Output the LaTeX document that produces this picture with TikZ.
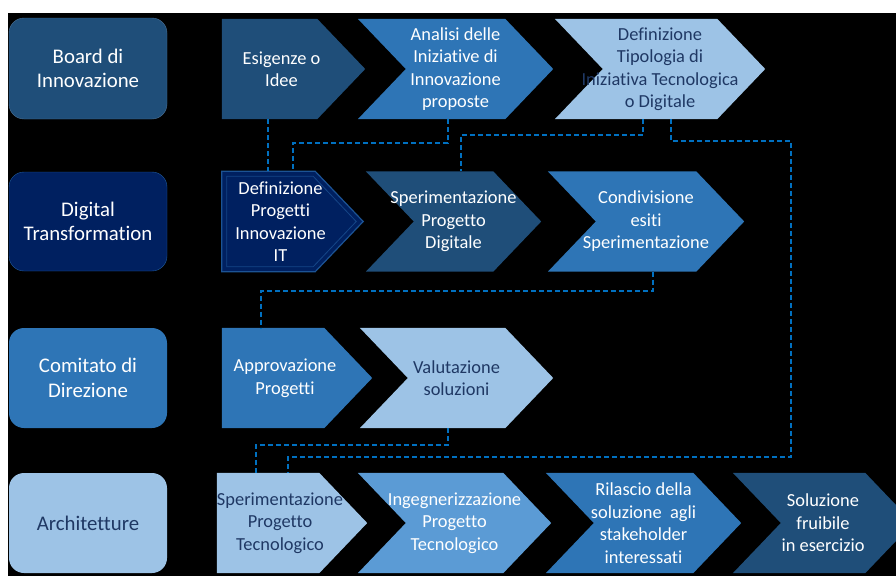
\documentclass[tikz,border=0pt]{standalone}
\usepackage{fontspec}
\setmainfont{Carlito}[Ligatures=NoCommon]
\usetikzlibrary{backgrounds}
\definecolor{cNavy}{HTML}{002060}
\definecolor{cDark}{HTML}{1F4E79}
\definecolor{cMid}{HTML}{2E75B6}
\definecolor{cSky}{HTML}{5B9BD5}
\definecolor{cLight}{HTML}{9DC3E6}
\definecolor{cInk}{HTML}{1F3864}
\definecolor{cLink}{HTML}{0070C0}
\newcommand{\lanefont}{\fontsize{20.8}{24.5}\selectfont}
\newcommand{\stepfont}{\fontsize{18.4}{22.5}\selectfont}

\begin{document}
\begin{tikzpicture}[x=1pt,y=-1pt,
  lane/.style={rounded corners=15pt,minimum width=158pt,inner sep=0pt,
    align=center,font=\lanefont,text=white},
  stepbox/.style={minimum height=100pt,inner sep=0pt,align=center,
    font=\stepfont,text=white},
  link/.style={cLink,line width=1.7pt,dash pattern=on 5pt off 3pt}]
  \useasboundingbox (0,0) rectangle (896,576);

  % lanes (left column)
  \node[lane,fill=cDark,draw=cDark!80!white,minimum height=101pt] (board) at (88,68.5) {Board di\\Innovazione};
  \node[lane,fill=cNavy,draw=cMid!70!cNavy,minimum height=99pt] (digit) at (88,221.5) {Digital\\Transformation};
  \node[lane,fill=cMid,minimum height=100pt] (comit) at (88,378) {Comitato di\\Direzione};
  \node[lane,fill=cLight,text=cInk,minimum height=100pt] (archi) at (88,523) {Architetture};

  % row 1
  \node[stepbox,minimum width=119pt] (esig) at (281.5,69) {Esigenze o\\Idee};
  \node[stepbox,minimum width=195pt] (anal) at (455.5,69) {Analisi delle\\Iniziative di\\Innovazione\\proposte};
  \node[stepbox,minimum width=210pt,text=cInk] (tipo) at (660,69) {Definizione\\Tipologia di\\Iniziativa Tecnologica\\o Digitale};
  % row 2
  \node[stepbox,minimum width=117pt] (defp) at (280.5,221.5) {Definizione\\Progetti\\Innovazione\\IT};
  \node[stepbox,minimum width=175pt] (spd) at (453.5,221.5) {Sperimentazione\\Progetto\\Digitale};
  \node[stepbox,minimum width=196pt] (cond) at (646,221.5) {Condivisione\\esiti\\Sperimentazione};
  % row 3
  \node[stepbox,minimum width=126pt] (appr) at (285,378) {Approvazione\\Progetti};
  \node[stepbox,minimum width=193pt,text=cInk] (valu) at (456.5,378) {Valutazione\\soluzioni};
  % row 4
  \node[stepbox,minimum width=116pt,text=cInk] (spt) at (280,523) {Sperimentazione\\Progetto\\Tecnologico};
  \node[stepbox,minimum width=193pt] (ing) at (454.5,523) {Ingegnerizzazione\\Progetto\\Tecnologico};
  \node[stepbox,minimum width=195pt] (ril) at (643.5,523) {Rilascio della\\soluzione~ agli\\stakeholder\\interessati};
  \node[stepbox,minimum width=180pt] (sol) at (823,523) {Soluzione\\fruibile\\in esercizio};

  \begin{scope}[on background layer]
    \fill[white] (0,0) rectangle (896,576);
    \fill[black] (8,13) rectangle (896,576);
    % chevrons
    \foreach \n/\c in {anal/cMid,tipo/cLight,spd/cDark,cond/cMid,valu/cLight,ing/cSky,ril/cMid,sol/cDark}
      \fill[\c] (\n.north west) -- ([xshift=-48pt]\n.north east) -- (\n.east)
        -- ([xshift=-48pt]\n.south east) -- (\n.south west) -- ([xshift=48pt]\n.west) -- cycle;
    % first steps (flat left side)
    \foreach \n/\c in {esig/cDark,defp/cNavy,appr/cMid,spt/cLight}
      \fill[\c] (\n.north west) -- ([xshift=-24pt]\n.north east) -- ([xshift=24pt]\n.east)
        -- ([xshift=-24pt]\n.south east) -- (\n.south west) -- cycle;
    % bevel on the navy step
    \draw[cMid!60!cNavy,line width=1.2pt] (defp.north west) -- ([xshift=-24pt]defp.north east) -- ([xshift=24pt]defp.east)
      -- ([xshift=-24pt]defp.south east) -- (defp.south west) -- cycle;
    \draw[cMid!45!cNavy,line width=0.8pt] ([shift={(5,5)}]defp.north west) -- ([shift={(-26,5)}]defp.north east)
      -- ([xshift=17pt]defp.east) -- ([shift={(-26,-5)}]defp.south east) -- ([shift={(5,-5)}]defp.south west) -- cycle;
  \end{scope}

  % dashed links between steps
  \coordinate (rail) at (791,457);
  \draw[link] ([xshift=46pt]esig.south west) -- ([xshift=46pt]defp.north west);
  \draw[link] ([xshift=90pt]anal.south west) -- ++(0,24) -| ([xshift=71pt]defp.north west);
  \draw[link] ([xshift=88pt]tipo.south west) -- ++(0,16) -| ([xshift=95pt]spd.north west);
  \draw[link] ([xshift=116pt]tipo.south west) -- ++(0,22) -| (rail) -| ([xshift=71pt]spt.north west);
  \draw[link] ([xshift=105pt]cond.south west) -- ++(0,19) -| ([xshift=39pt]appr.north west);
  \draw[link] ([xshift=88pt]valu.south west) -- ++(0,17) -| ([xshift=39pt]spt.north west);
\end{tikzpicture}
\end{document}
